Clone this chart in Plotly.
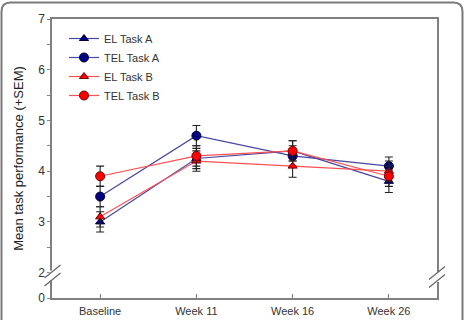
import plotly.graph_objects as go

# ---- data ----
categories = ["Baseline", "Week 11", "Week 16", "Week 26"]
el_a = [3.0, 4.25, 4.4, 3.8]
tel_a = [3.5, 4.7, 4.3, 4.1]
el_b = [3.1, 4.2, 4.1, 4.0]
tel_b = [3.9, 4.3, 4.4, 3.9]
el_a_sem = [0.2, 0.2, 0.2, 0.22]
tel_a_sem = [0.2, 0.2, 0.2, 0.18]
el_b_sem = [0.2, 0.2, 0.22, 0.2]
tel_b_sem = [0.2, 0.2, 0.2, 0.2]
y_tick_vals = [2, 3, 4, 5, 6, 7]
y_tick_text = ["2", "3", "4", "5", "6", "7"]
y_minor_vals = [2.5, 3.5, 4.5, 5.5, 6.5]
y_break_bottom = 1.5  # axis bottom, labelled "0" after the break

NAVY = "#000080"
RED = "#ff0000"
FONT = "Liberation Sans, Arial, sans-serif"

W, H = 467, 320
ML, MR, MT, MB = 52, 30, 19, 22
PW, PH = W - ML - MR, H - MT - MB


def px(x):
    return (x - ML) / PW


def py(y):
    return (H - MB - y) / PH


fig = go.Figure()


def add(name, vals, sem, color, linecolor, symbol, size, edge):
    fig.add_trace(go.Scatter(
        x=categories, y=vals, name=name, mode="lines+markers",
        line=dict(color=linecolor, width=1.2),
        marker=dict(symbol=symbol, size=size, color=color,
                    line=dict(color=edge, width=1)),
        error_y=dict(type="data", array=sem, visible=True,
                     color="#222222", thickness=1.1, width=4),
    ))


add("EL Task A", el_a, el_a_sem, NAVY, "#4646a0", "triangle-up", 8, "#000040")
add("TEL Task A", tel_a, tel_a_sem, NAVY, "#4646a0", "circle", 9, "#000040")
add("EL Task B", el_b, el_b_sem, RED, "#ff5050", "triangle-up", 8, "#700000")
add("TEL Task B", tel_b, tel_b_sem, RED, "#ff5050", "circle", 9, "#700000")

shapes = []
# axis break gaps (white) and break marks
for xc, yc in [(52.5, 275.5), (437, 277)]:
    shapes.append(dict(type="rect", xref="paper", yref="paper",
                       x0=px(xc - 3), x1=px(xc + 3), y0=py(yc + 5), y1=py(yc - 5),
                       fillcolor="white", line=dict(width=0), layer="above"))
    for dy in (-4, 4):
        shapes.append(dict(type="line", xref="paper", yref="paper",
                           x0=px(xc - 8), y0=py(yc + dy + 6.5),
                           x1=px(xc + 8), y1=py(yc + dy - 6.5),
                           line=dict(color="#666666", width=1.2), layer="above"))

# outer rounded frame
x0f, x1f, y0f, y1f, r = 1.5, 462.5, 2.5, 340, 9
path = (f"M {px(x0f)},{py(y1f)} L {px(x0f)},{py(y0f + r)} "
        f"Q {px(x0f)},{py(y0f)} {px(x0f + r)},{py(y0f)} "
        f"L {px(x1f - r)},{py(y0f)} "
        f"Q {px(x1f)},{py(y0f)} {px(x1f)},{py(y0f + r)} "
        f"L {px(x1f)},{py(y1f)}")
shapes.append(dict(type="path", xref="paper", yref="paper", path=path,
                   line=dict(color="#7a7a7a", width=2)))

fig.update_layout(
    width=W, height=H,
    margin=dict(l=ML, r=MR, t=MT, b=MB, autoexpand=False),
    paper_bgcolor="white", plot_bgcolor="white",
    font=dict(family=FONT, color="#333333", size=11),
    showlegend=True,
    legend=dict(x=px(64), y=py(24), xanchor="left", yanchor="top",
                bgcolor="rgba(0,0,0,0)", font=dict(size=11, color="#333333"),
                itemwidth=30, tracegroupgap=0),
    shapes=shapes,
    xaxis=dict(type="category", range=[-0.5, 3.5], showgrid=False,
               showline=True, linecolor="#808080", linewidth=1.5, mirror=True,
               ticks="inside", ticklen=4, tickcolor="#808080",
               ticklabelstandoff=2, automargin=False,
               tickfont=dict(size=11, color="#333333"), zeroline=False),
    yaxis=dict(range=[y_break_bottom, 7], showgrid=False, automargin=False,
               showline=True, linecolor="#808080", linewidth=1.5, mirror=True,
               tickmode="array",
               tickvals=[y_break_bottom] + y_tick_vals,
               ticktext=["0"] + y_tick_text,
               ticks="outside", ticklen=3, tickcolor="#808080",
               minor=dict(tickvals=y_minor_vals, ticks="outside", ticklen=3,
                          tickcolor="#808080"),
               tickfont=dict(size=12, color="#333333"), zeroline=False,
               title=dict(text="Mean task performance (+SEM)",
                          font=dict(size=13, color="#222222"), standoff=12)),
)

fig.write_html("out.html")
